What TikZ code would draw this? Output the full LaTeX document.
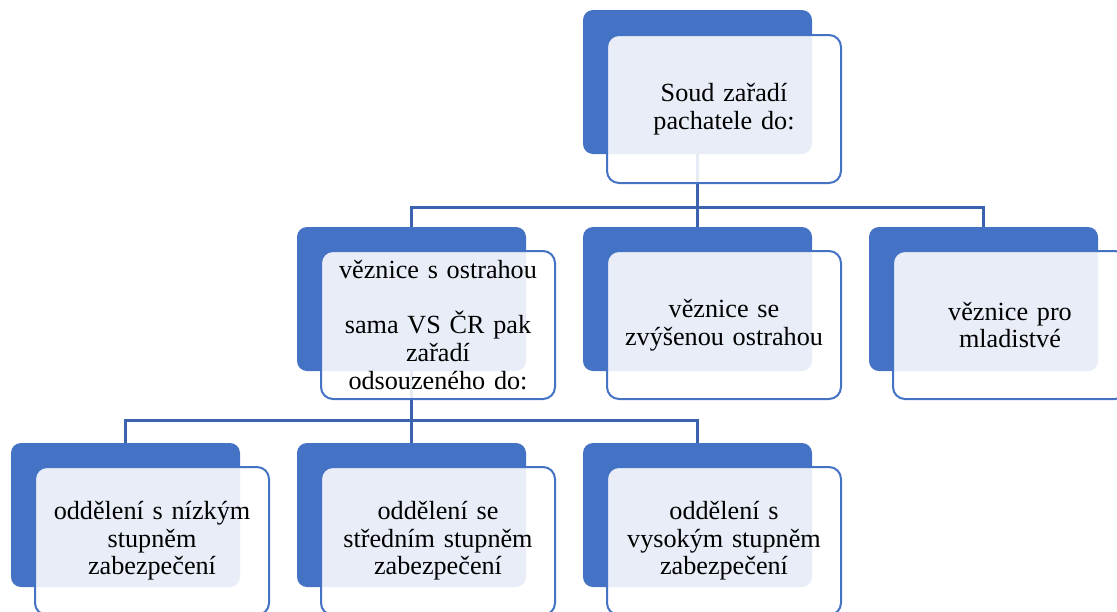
\documentclass[tikz,border=0pt]{standalone}
\usepackage{fontspec}
\setmainfont{Liberation Serif}
\definecolor{accent}{HTML}{4472C4}
\definecolor{linec}{HTML}{3B62AE}
\tikzset{
  backbox/.style={fill=accent, draw=none, rounded corners=10pt, minimum width=229pt, minimum height=144pt, inner sep=0pt},
  frontbox/.style={fill=white, fill opacity=0.88, text opacity=1, draw=accent, line width=2pt, rounded corners=12pt, minimum width=234pt, minimum height=148pt, inner sep=0pt, align=center, text width=226pt, font=\fontsize{26.2}{27.6}\selectfont},
  conn/.style={draw=linec, line width=2.6pt}
}
\begin{document}
\begin{tikzpicture}[x=1pt,y=-1pt]
\useasboundingbox (0,0) rectangle (1117,611);
% back boxes
\node[backbox] (b0) at (697.5,82) {};
\node[backbox] (b1) at (411.5,299) {};
\node[backbox] (b2) at (697.5,299) {};
\node[backbox] (b3) at (983.5,299) {};
\node[backbox] (b4) at (125.5,515) {};
\node[backbox] (b5) at (411.5,515) {};
\node[backbox] (b6) at (697.5,515) {};
% connectors
\draw[conn] (b0.south) -- ++(0,53) coordinate (j0);
\draw[conn] (j0) -| (b1.north);
\draw[conn] (j0) -| (b3.north);
\draw[conn] (j0) -- (b2.north);
\draw[conn] (b1.south) -- ++(0,49) coordinate (j1);
\draw[conn] (j1) -| (b4.north);
\draw[conn] (j1) -| (b6.north);
\draw[conn] (j1) -- (b5.north);
% front boxes
\node[frontbox] (f0) at (724,109) {Soud zařadí\\pachatele do:};
\node[frontbox] (f1) at (438,325) {věznice s ostrahou\\[27.6pt]sama VS ČR pak\\zařadí\\odsouzeného do:};
\node[frontbox] (f2) at (724,325) {věznice se\\zvýšenou ostrahou};
\node[frontbox] (f3) at (1010,325) {věznice pro\\mladistvé};
\node[frontbox] (f4) at (152,541) {oddělení s nízkým\\stupněm\\zabezpečení};
\node[frontbox] (f5) at (438,541) {oddělení se\\středním stupněm\\zabezpečení};
\node[frontbox] (f6) at (724,541) {oddělení s\\vysokým stupněm\\zabezpečení};
\end{tikzpicture}
\end{document}
